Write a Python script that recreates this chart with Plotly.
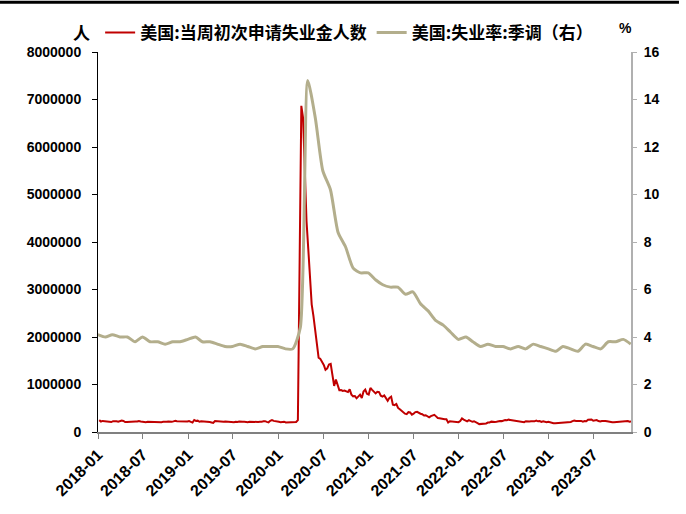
import pandas as pd
import plotly.graph_objects as go

# weekly initial jobless claims (thousands), week ending Saturday
claims_2018 = [250, 220, 233, 230, 221, 230, 222, 210, 228, 231, 226, 215, 230, 242, 233, 209, 211, 214,
               223, 219, 234, 222, 221, 232, 220, 213, 217, 208, 216, 214, 209, 212, 210, 201, 206, 203,
               207, 216, 211, 214, 221, 216, 214, 224, 234, 225, 223, 235, 234, 216, 221, 220]
claims_2019 = [231, 213, 199, 253, 234, 239, 216, 225, 223, 230, 221, 212, 211, 202, 192, 230, 228, 212,
               212, 215, 218, 222, 217, 224, 215, 209, 206, 216, 209, 220, 213, 217, 216, 204, 208, 215,
               212, 223, 218, 215, 212, 217, 214, 227, 228, 213, 204, 235, 252, 234, 222, 215]
claims_2020 = [214, 207, 219, 217, 202, 204, 210, 216, 216, 219, 211, 251, 3307, 6867, 6615, 5237, 4442,
               3867, 3176, 2687, 2446, 2126, 1897, 1566, 1540, 1482, 1413, 1310, 1338, 1422, 1435, 1204,
               971, 1104, 1011, 881, 884, 866, 873, 849, 840, 898, 787, 751, 757, 709, 748, 787, 716, 853,
               892, 803]
claims_2021 = [787, 926, 886, 847, 812, 848, 841, 765, 745, 770, 725, 658, 719, 744, 576, 566, 590, 507,
               478, 444, 408, 385, 375, 418, 411, 364, 386, 419, 424, 399, 385, 375, 348, 354, 340, 310,
               335, 351, 362, 329, 293, 290, 281, 269, 267, 268, 199, 227, 223, 206, 212, 199]
claims_2022 = [207, 230, 286, 260, 238, 225, 249, 232, 215, 227, 214, 187, 166, 170, 185, 185, 180, 200,
               200, 218, 210, 209, 214, 229, 231, 229, 244, 251, 248, 260, 254, 248, 245, 232, 229, 222,
               211, 218, 207, 228, 216, 219, 225, 217, 225, 241, 225, 231, 214, 227, 216, 206, 216]
claims_2023 = [204, 191, 185, 186, 187, 195, 194, 190, 196, 192, 198, 198, 211, 228, 240, 232, 239, 233,
               233, 219, 230, 226, 258, 262, 264, 237, 239, 251, 230, 222, 232, 238, 233, 226, 216, 222,
               205, 206, 208, 217, 211, 218, 218, 220, 224, 231, 216, 220]

# monthly unemployment rate, seasonally adjusted (%), month-end, from Dec 2017
unrate_2017 = [4.1]
unrate_2018 = [4.0, 4.1, 4.0, 4.0, 3.8, 4.0, 3.8, 3.8, 3.7, 3.8, 3.8, 3.9]
unrate_2019 = [4.0, 3.8, 3.8, 3.7, 3.6, 3.6, 3.7, 3.6, 3.5, 3.6, 3.6, 3.6]
unrate_2020 = [3.5, 3.5, 4.4, 14.8, 13.2, 11.0, 10.2, 8.4, 7.8, 6.9, 6.7, 6.7]
unrate_2021 = [6.4, 6.2, 6.1, 6.1, 5.8, 5.9, 5.4, 5.1, 4.7, 4.5, 4.2, 3.9]
unrate_2022 = [4.0, 3.8, 3.6, 3.7, 3.6, 3.6, 3.5, 3.6, 3.5, 3.7, 3.6, 3.5]
unrate_2023 = [3.4, 3.6, 3.5, 3.4, 3.7, 3.6, 3.5, 3.8, 3.8, 3.9, 3.7]

tick_labels = ['2018-01', '2018-07', '2019-01', '2019-07', '2020-01', '2020-07',
               '2021-01', '2021-07', '2022-01', '2022-07', '2023-01', '2023-07']

claims = claims_2018 + claims_2019 + claims_2020 + claims_2021 + claims_2022 + claims_2023
claims = [c * 1000 for c in claims]
claim_dates = pd.date_range('2018-01-06', periods=len(claims), freq='W-SAT')

unrate = unrate_2017 + unrate_2018 + unrate_2019 + unrate_2020 + unrate_2021 + unrate_2022 + unrate_2023
unrate_dates = pd.date_range('2017-12-31', periods=len(unrate), freq='ME')

font_y = dict(family='Liberation Sans, Arial', size=14, color='#000000', weight='bold')
font_x = dict(family='Liberation Sans, Arial', size=16, color='#000000', weight='bold')
font_cjk = dict(family='Noto Sans CJK SC', size=17, color='#000000', weight='bold')

fig = go.Figure()

fig.add_trace(go.Scatter(x=claim_dates, y=claims, name='美国:当周初次申请失业金人数', mode='lines',
                         line=dict(color='#c00000', width=2), yaxis='y'))

fig.add_trace(go.Scatter(x=unrate_dates, y=unrate, name='美国:失业率:季调（右）', mode='lines',
                         line=dict(color='#b3ae8c', width=3, shape='spline', smoothing=0.6), yaxis='y2'))

fig.update_layout(
    width=686,
    height=514,
    margin=dict(l=98, r=55, t=52, b=82, autoexpand=False),
    paper_bgcolor='white',
    plot_bgcolor='white',
    showlegend=True,
    xaxis=dict(
        range=['2018-01-01', '2023-12-01'],
        tickmode='array',
        tickvals=tick_labels,
        ticktext=tick_labels,
        tickangle=-45,
        tickfont=font_x,
        automargin=False,
        showgrid=False,
        showline=True,
        linecolor='#808080',
        linewidth=2,
        ticks='outside',
        ticklen=5,
        tickcolor='#808080',
        zeroline=False,
    ),
    yaxis=dict(
        range=[0, 8000000],
        dtick=1000000,
        tickformat='d',
        tickfont=font_y,
        ticklabelstandoff=8,
        automargin=False,
        showgrid=False,
        showline=True,
        linecolor='#000000',
        linewidth=1,
        ticks='outside',
        ticklen=5,
        tickcolor='#000000',
        zeroline=False,
    ),
    yaxis2=dict(
        range=[0, 16],
        dtick=2,
        overlaying='y',
        side='right',
        tickfont=font_y,
        ticklabelstandoff=4,
        automargin=False,
        showgrid=False,
        showline=True,
        linecolor='#b0b0b0',
        linewidth=2,
        ticks='outside',
        ticklen=4,
        tickcolor='#b0b0b0',
        zeroline=False,
    ),
    legend=dict(
        orientation='h',
        x=0.004,
        y=1.05,
        xanchor='left',
        yanchor='middle',
        font=font_cjk,
        bgcolor='rgba(0,0,0,0)',
        itemwidth=30,
        tracegroupgap=0,
    ),
    annotations=[
        dict(text='人', xref='paper', yref='paper', x=-0.011, y=1.05, xanchor='right', yanchor='middle',
             showarrow=False, font=font_cjk),
        dict(text='%', xref='paper', yref='paper', x=0.9906, y=1.063, xanchor='center', yanchor='middle',
             showarrow=False, font=dict(family='Liberation Sans, Arial', size=14, color='#000000', weight='bold')),
    ],
    shapes=[
        dict(type='line', xref='paper', yref='paper', x0=-0.184, x1=1.09, y0=1.131, y1=1.131,
             line=dict(color='#000000', width=3), layer='above'),
    ],
)

fig.write_html("out.html", config={'displayModeBar': False},
               post_script="document.body.style.margin='0';")
